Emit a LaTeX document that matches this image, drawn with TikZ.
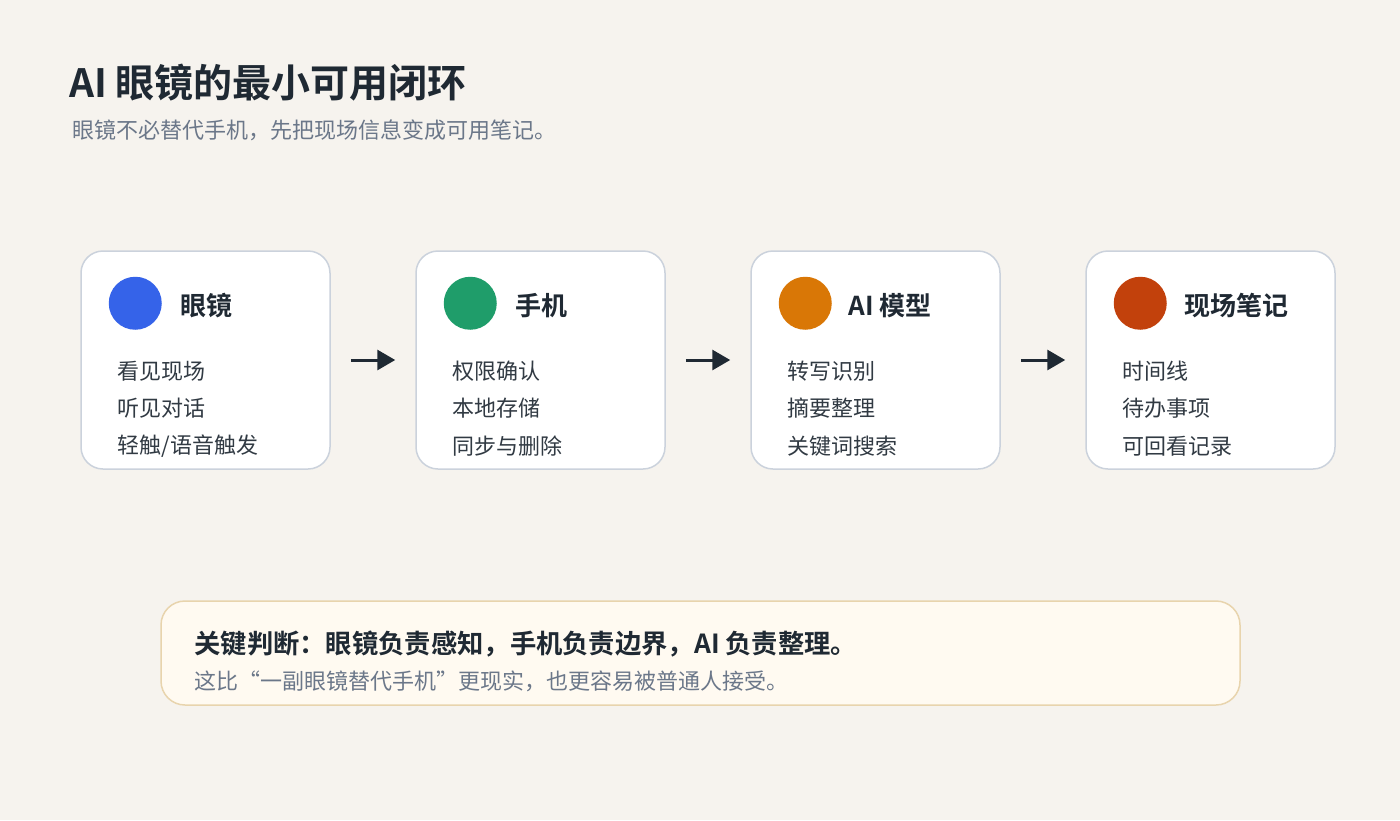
\documentclass[tikz,border=0pt]{standalone}
\usepackage{fontspec}
\setmainfont{Noto Sans CJK SC}[BoldFont={Noto Sans CJK SC Bold}]
\usetikzlibrary{arrows.meta}
\definecolor{bg}{HTML}{F6F3EE}
\definecolor{ink}{HTML}{1F2933}
\definecolor{muted}{HTML}{6B7789}
\definecolor{cardline}{HTML}{CBD2DC}
\definecolor{noteFill}{HTML}{FFFAF1}
\definecolor{noteLine}{HTML}{E8D4AD}
\definecolor{cBlue}{HTML}{3563E9}
\definecolor{cGreen}{HTML}{1F9D6A}
\definecolor{cOrange}{HTML}{D97706}
\definecolor{cRed}{HTML}{C2410C}
\tikzset{
  card/.style={draw=cardline, line width=1.5pt, fill=white, rounded corners=22pt,
    minimum width=249pt, minimum height=218pt, inner sep=0pt},
  dot/.style={circle, inner sep=0pt, minimum size=53pt},
  cardtitle/.style={anchor=west, inner sep=0pt, text=ink, font=\fontsize{26}{30}\selectfont\bfseries},
  item/.style={anchor=west, inner sep=0pt, text=ink!92, font=\fontsize{22}{26}\selectfont},
  flow/.style={draw=ink, line width=3pt, -{Triangle[length=18pt,width=20pt]},
    shorten <=20pt, shorten >=20pt},
}
\begin{document}
\begin{tikzpicture}[x=1pt,y=-1pt]
\fill[bg] (0,0) rectangle (1400,820);
\useasboundingbox (0,0) rectangle (1400,820);

\node[anchor=west, inner sep=0pt, text=ink, font=\fontsize{39}{44}\selectfont\bfseries] (title) at (69,83) {AI 眼镜的最小可用闭环};
\node[anchor=west, inner sep=0pt, text=muted, font=\fontsize{22}{26}\selectfont] (subtitle) at (72,130) {眼镜不必替代手机，先把现场信息变成可用笔记。};

% cards
\node[card] (c1) at (205.5,360) {};
\node[card] (c2) at (540.5,360) {};
\node[card] (c3) at (875.5,360) {};
\node[card] (c4) at (1210.5,360) {};

\node[dot, fill=cBlue] (d1) at ([shift={(55,53)}]c1.north west) {};
\node[cardtitle] (t1) at ([shift={(100,55)}]c1.north west) {眼镜};
\node[item] (i11) at ([shift={(37,121)}]c1.north west) {看见现场};
\node[item] (i12) at ([shift={(37,158)}]c1.north west) {听见对话};
\node[item] (i13) at ([shift={(37,196)}]c1.north west) {轻触/语音触发};

\node[dot, fill=cGreen] (d2) at ([shift={(55,53)}]c2.north west) {};
\node[cardtitle] (t2) at ([shift={(100,55)}]c2.north west) {手机};
\node[item] (i21) at ([shift={(37,121)}]c2.north west) {权限确认};
\node[item] (i22) at ([shift={(37,158)}]c2.north west) {本地存储};
\node[item] (i23) at ([shift={(37,196)}]c2.north west) {同步与删除};

\node[dot, fill=cOrange] (d3) at ([shift={(55,53)}]c3.north west) {};
\node[cardtitle] (t3) at ([shift={(98,55)}]c3.north west) {AI 模型};
\node[item] (i31) at ([shift={(37,121)}]c3.north west) {转写识别};
\node[item] (i32) at ([shift={(37,158)}]c3.north west) {摘要整理};
\node[item] (i33) at ([shift={(37,196)}]c3.north west) {关键词搜索};

\node[dot, fill=cRed] (d4) at ([shift={(55,53)}]c4.north west) {};
\node[cardtitle] (t4) at ([shift={(99,55)}]c4.north west) {现场笔记};
\node[item] (i41) at ([shift={(37,121)}]c4.north west) {时间线};
\node[item] (i42) at ([shift={(37,158)}]c4.north west) {待办事项};
\node[item] (i43) at ([shift={(37,196)}]c4.north west) {可回看记录};

\draw[flow] (c1.east) -- (c2.west);
\draw[flow] (c2.east) -- (c3.west);
\draw[flow] (c3.east) -- (c4.west);

% note
\node[draw=noteLine, line width=1.5pt, fill=noteFill, rounded corners=24pt,
  minimum width=1079pt, minimum height=104pt, inner sep=0pt] (note) at (700.5,653) {};
\node[anchor=west, inner sep=0pt, text=ink, font=\fontsize{26.3}{31}\selectfont\bfseries] (n1) at ([shift={(34,44)}]note.north west) {关键判断：眼镜负责感知，手机负责边界，AI 负责整理。};
\node[anchor=west, inner sep=0pt, text=muted, font=\fontsize{22}{26}\selectfont] (n2) at ([shift={(34,81)}]note.north west) {这比“一副眼镜替代手机”更现实，也更容易被普通人接受。};
\end{tikzpicture}
\end{document}
